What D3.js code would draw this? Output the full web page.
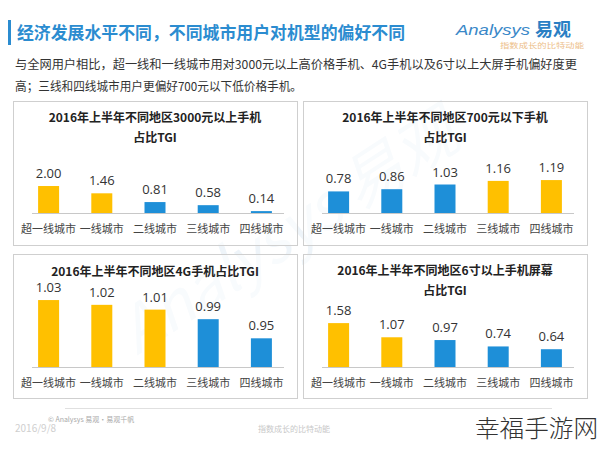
<!DOCTYPE html>
<html><head><meta charset="utf-8">
<script src="https://cdn.jsdelivr.net/npm/d3@7"></script>
<style>
html,body{margin:0;padding:0;background:#fff;}
svg{display:block;font-family:"Noto Sans CJK SC","Noto Sans",sans-serif;}
</style></head>
<body><svg id="c" width="600" height="449"></svg>
<script>
// ---- data ----
const categories = ["超一线城市","一线城市","二线城市","三线城市","四线城市"];
const titles = [
  ["2016年上半年不同地区3000元以上手机","占比TGI"],
  ["2016年上半年不同地区700元以下手机","占比TGI"],
  ["2016年上半年不同地区4G手机占比TGI"],
  ["2016年上半年不同地区6寸以上手机屏幕","占比TGI"]
];
const values3000 = [2.00, 1.46, 0.81, 0.58, 0.14];
const values700  = [0.78, 0.86, 1.03, 1.16, 1.19];
const values4G   = [1.03, 1.02, 1.01, 0.99, 0.95];
const values6in  = [1.58, 1.07, 0.97, 0.74, 0.64];
const highlight3000 = [1,1,0,0,0];
const highlight700  = [0,0,0,1,1];
const highlight4G   = [1,1,1,0,0];
const highlight6in  = [1,1,0,0,0];
const headTitle = "经济发展水平不同，不同城市用户对机型的偏好不同";
const bodyLines = ["与全网用户相比，超一线和一线城市用对3000元以上高价格手机、4G手机以及6寸以上大屏手机偏好度更",
                   "高；三线和四线城市用户更偏好700元以下低价格手机。"];

// ---- layout/style ----
const ORANGE = "#FFC000", BLUE = "#1E8FD8", TBLUE = "#2B8CD0";
const svg = d3.select("#c");

// watermark
svg.append("text").attr("x",300).attr("y",250)
  .attr("transform","rotate(-33,300,250)")
  .attr("text-anchor","middle").attr("font-size",62).attr("font-style","italic")
  .attr("fill","#eef4f9").text("Analysys 易观");

// header
svg.append("rect").attr("x",8).attr("y",20).attr("width",3).attr("height",25).attr("fill",TBLUE);
svg.append("text").attr("x",17).attr("y",39).attr("font-size",17).attr("font-weight","bold")
  .attr("fill",TBLUE).attr("textLength",388).attr("lengthAdjust","spacingAndGlyphs").text(headTitle);
svg.append("text").attr("x",456).attr("y",35).attr("font-size",14).attr("font-style","italic")
  .attr("font-family","Liberation Sans").attr("fill","#3a88c8").attr("textLength",74)
  .attr("lengthAdjust","spacingAndGlyphs").text("Analysys");
svg.append("text").attr("x",535).attr("y",36).attr("font-size",18).attr("font-weight","bold")
  .attr("fill","#2a7fc4").text("易观");
svg.append("text").attr("x",500).attr("y",48).attr("font-size",7).attr("fill","#edc08a")
  .attr("textLength",84).attr("lengthAdjust","spacingAndGlyphs").text("指数成长的比特动能");
svg.append("text").attr("x",15).attr("y",69).attr("font-size",12).attr("fill","#333")
  .attr("textLength",562).attr("lengthAdjust","spacingAndGlyphs").text(bodyLines[0]);
svg.append("text").attr("x",15).attr("y",91).attr("font-size",12).attr("fill","#333")
  .attr("textLength",287).attr("lengthAdjust","spacingAndGlyphs").text(bodyLines[1]);

// panels
const panels = [
  {x0:13, y0:101, values:values3000, hl:highlight3000, title:titles[0], domain:[0,5.19], base:112},
  {x0:303,y0:101, values:values700,  hl:highlight700,  title:titles[1], domain:[0,2.53], base:112},
  {x0:13, y0:254, values:values4G,   hl:highlight4G,   title:titles[2], domain:[0.89,1.0364], base:113},
  {x0:303,y0:254, values:values6in,  hl:highlight6in,  title:titles[3], domain:[0,2.52], base:113}
];
const PW = 284, PH = 144;
panels.forEach(p=>{
  const g = svg.append("g").attr("transform",`translate(${p.x0},${p.y0})`);
  g.append("rect").attr("x",0.5).attr("y",0.5).attr("width",PW).attr("height",PH)
    .attr("fill","#fff").attr("fill-opacity",0.6).attr("stroke","#cfcfcf");
  const cx = PW/2;
  if(p.title.length===2){
    g.append("text").attr("x",cx).attr("y",21).attr("text-anchor","middle").attr("font-size",12)
      .attr("font-weight","bold").attr("fill","#222").text(p.title[0]);
    g.append("text").attr("x",cx).attr("y",41).attr("text-anchor","middle").attr("font-size",12)
      .attr("font-weight","bold").attr("fill","#222").text(p.title[1]);
  } else {
    g.append("text").attr("x",cx).attr("y",22).attr("text-anchor","middle").attr("font-size",12)
      .attr("font-weight","bold").attr("fill","#222").text(p.title[0]);
  }
  const x = d3.scalePoint().domain(categories).range([cx-133, cx+133]).padding(0.5);
  const y = d3.scaleLinear().domain(p.domain).range([p.base, p.base-70]);
  const bw = 21;
  g.append("line").attr("x1",cx-123).attr("x2",cx+129).attr("y1",p.base+0.5).attr("y2",p.base+0.5)
    .attr("stroke","#c8c8c8");
  g.selectAll("rect.bar").data(p.values).enter().append("rect").attr("class","bar")
    .attr("x",(d,i)=>x(categories[i])-bw/2).attr("width",bw)
    .attr("y",d=>y(d)).attr("height",d=>p.base-y(d))
    .attr("fill",(d,i)=>p.hl[i]?ORANGE:BLUE);
  g.selectAll("text.val").data(p.values).enter().append("text").attr("class","val")
    .attr("x",(d,i)=>x(categories[i])).attr("y",d=>y(d)-8)
    .attr("text-anchor","middle").attr("font-size",13).attr("fill","#333")
    .attr("font-family","Open Sans").text(d=>d.toFixed(2));
  g.selectAll("text.cat").data(categories).enter().append("text").attr("class","cat")
    .attr("x",d=>x(d)).attr("y",p.base+20).attr("text-anchor","middle")
    .attr("font-size",11).attr("fill","#444").text(d=>d);
});

// footer
svg.append("line").attr("x1",65).attr("x2",552).attr("y1",408.5).attr("y2",408.5).attr("stroke","#e0e0e0");
svg.append("text").attr("x",48).attr("y",422).attr("font-size",7).attr("fill","#aaa").text("© Analysys 易观·易观千帆");
svg.append("text").attr("x",15).attr("y",432).attr("font-size",10).attr("fill","#cfcfcf").text("2016/9/8");
svg.append("text").attr("x",258).attr("y",432).attr("font-size",8).attr("fill","#c8c8c8").text("指数成长的比特动能");
svg.append("text").attr("x",475).attr("y",437).attr("font-size",24).attr("font-weight",300)
  .attr("fill","#333").attr("textLength",123).attr("lengthAdjust","spacingAndGlyphs").text("幸福手游网");
</script></body></html>
